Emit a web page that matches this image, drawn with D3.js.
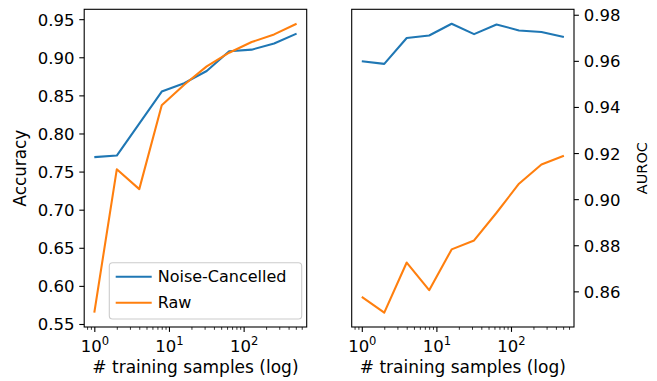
<!DOCTYPE html>
<html>
<head>
<meta charset="utf-8">
<script src="https://cdn.jsdelivr.net/npm/d3@7"></script>
<style>
  html, body { margin: 0; padding: 0; background: #fff; }
  svg { display: block; font-family: "DejaVu Sans", sans-serif; }
</style>
</head>
<body>
<svg id="chart" width="657" height="381"></svg>
<script>
// ---- data ----
const samples = [1, 2, 4, 8, 16, 32, 64, 128, 256, 512];
const seriesNames = ["Noise-Cancelled", "Raw"];
const accNoiseCancelled = [0.769, 0.771, 0.813, 0.855, 0.866, 0.882, 0.908, 0.910, 0.918, 0.931];
const accRaw            = [0.565, 0.753, 0.727, 0.837, 0.864, 0.888, 0.906, 0.920, 0.930, 0.944];
const aurocNoiseCancelled = [0.9598, 0.9587, 0.9699, 0.9710, 0.9761, 0.9716, 0.9758, 0.9732, 0.9725, 0.9703];
const aurocRaw            = [0.8576, 0.8508, 0.8725, 0.8605, 0.8782, 0.8821, 0.8941, 0.9067, 0.9150, 0.9188];
const xTickValues = [1, 10, 100];
const xTickExponents = ["0", "1", "2"];
const accTicks = [0.55, 0.60, 0.65, 0.70, 0.75, 0.80, 0.85, 0.90, 0.95];
const aurocTicks = [0.86, 0.88, 0.90, 0.92, 0.94, 0.96, 0.98];
const colors = ["#1f77b4", "#ff7f0e"];

// ---- layout ----
const svg = d3.select("#chart");
const plotTop = 9.3, plotBottom = 327;
const fs = 16.5;

function padLog(vals) {
  const lo = Math.log10(d3.min(vals)), hi = Math.log10(d3.max(vals));
  const m = (hi - lo) * 0.05;
  return [Math.pow(10, lo - m), Math.pow(10, hi + m)];
}
function padLin(vals) {
  const lo = d3.min(vals), hi = d3.max(vals);
  const m = (hi - lo) * 0.05;
  return [lo - m, hi + m];
}

function minorTicks(domain) {
  const out = [];
  for (let e = -1; e <= 3; e++) {
    for (let k = 2; k <= 9; k++) {
      const v = k * Math.pow(10, e);
      if (v >= domain[0] && v <= domain[1]) out.push(v);
    }
  }
  return out;
}

function drawPanel(x0, x1, ySeries, yTicks, side, ylabel) {
  const g = svg.append("g");
  const xDom = padLog(samples);
  const x = d3.scaleLog().domain(xDom).range([x0, x1]);
  const y = d3.scaleLinear().domain(padLin(ySeries.flat())).range([plotBottom, plotTop]);

  // lines
  const line = d3.line().x((d, i) => x(samples[i])).y(d => y(d));
  ySeries.forEach((s, i) => {
    g.append("path").datum(s)
      .attr("d", line)
      .attr("fill", "none")
      .attr("stroke", colors[i])
      .attr("stroke-width", 2.08)
      .attr("stroke-linejoin", "round")
      .attr("stroke-linecap", "butt");
  });

  // frame
  g.append("rect").attr("x", x0).attr("y", plotTop).attr("width", x1 - x0).attr("height", plotBottom - plotTop)
    .attr("fill", "none").attr("stroke", "#000").attr("stroke-width", 1.1);

  // x minor ticks
  const xMinor = d3.axisBottom(x).tickValues(minorTicks(xDom)).tickSize(2.8).tickFormat("");
  const gm = g.append("g").attr("transform", `translate(0,${plotBottom})`).call(xMinor);
  gm.select(".domain").remove();
  gm.selectAll("line").attr("stroke", "#000").attr("stroke-width", 0.8);

  // x major ticks
  const xAxis = d3.axisBottom(x).tickValues(xTickValues).tickSize(4.9).tickPadding(4.9).tickFormat("");
  const gx = g.append("g").attr("transform", `translate(0,${plotBottom})`).call(xAxis);
  gx.select(".domain").remove();
  gx.selectAll("line").attr("stroke", "#000").attr("stroke-width", 1.1);
  gx.selectAll(".tick").each(function(d, i) {
    const t = d3.select(this).append("text")
      .attr("x", 0).attr("y", 24.6)
      .attr("text-anchor", "middle")
      .attr("fill", "#000")
      .attr("font-size", fs)
      .attr("font-family", "DejaVu Sans");
    t.append("tspan").text("10");
    t.append("tspan").attr("font-size", fs * 0.7).attr("dy", -7).text(xTickExponents[i]);
  });

  // x label
  g.append("text")
    .attr("x", (x0 + x1) / 2).attr("y", 373)
    .attr("text-anchor", "middle")
    .attr("font-size", fs + 0.5)
    .attr("fill", "#000")
    .text("# training samples (log)");

  // y axis
  const yAxis = (side === "left" ? d3.axisLeft(y) : d3.axisRight(y))
    .tickValues(yTicks).tickSize(4.9).tickPadding(4.9).tickFormat(d3.format(".2f"));
  const gy = g.append("g")
    .attr("transform", `translate(${side === "left" ? x0 : x1},0)`)
    .call(yAxis);
  gy.select(".domain").remove();
  gy.selectAll("line").attr("stroke", "#000").attr("stroke-width", 1.1);
  gy.selectAll("text").attr("font-size", fs).attr("font-family", "DejaVu Sans").attr("fill", "#000")
    .attr("dy", "0.36em");

  // y label
  if (side === "left") {
    g.append("text")
      .attr("transform", `translate(25.5,${(plotTop + plotBottom) / 2}) rotate(-90)`)
      .attr("text-anchor", "middle")
      .attr("font-size", fs + 0.3)
      .attr("fill", "#000")
      .text(ylabel);
  } else {
    g.append("text")
      .attr("transform", `translate(646.5,${(plotTop + plotBottom) / 2}) rotate(-90)`)
      .attr("text-anchor", "middle")
      .attr("font-size", 14.5)
      .attr("fill", "#000")
      .text(ylabel);
  }
  return { x, y, g };
}

drawPanel(84.2, 306.7, [accNoiseCancelled, accRaw], accTicks, "left", "Accuracy");
drawPanel(351.7, 574, [aurocNoiseCancelled, aurocRaw], aurocTicks, "right", "AUROC");

// legend (left panel)
const lg = svg.append("g");
lg.append("rect")
  .attr("x", 109.3).attr("y", 262.7).attr("width", 192.4).attr("height", 56.3)
  .attr("rx", 3.3).attr("ry", 3.3)
  .attr("fill", "#fff").attr("fill-opacity", 0.8)
  .attr("stroke", "#cccccc").attr("stroke-width", 1.1);
seriesNames.forEach((name, i) => {
  const yy = 276.7 + i * 26;
  lg.append("line").attr("x1", 115.7).attr("x2", 151.7).attr("y1", yy).attr("y2", yy)
    .attr("stroke", colors[i]).attr("stroke-width", 2.08);
  lg.append("text").attr("x", 157.7).attr("y", yy).attr("dy", "0.36em")
    .attr("font-size", 16).attr("fill", "#000").text(name);
});
</script>
</body>
</html>
